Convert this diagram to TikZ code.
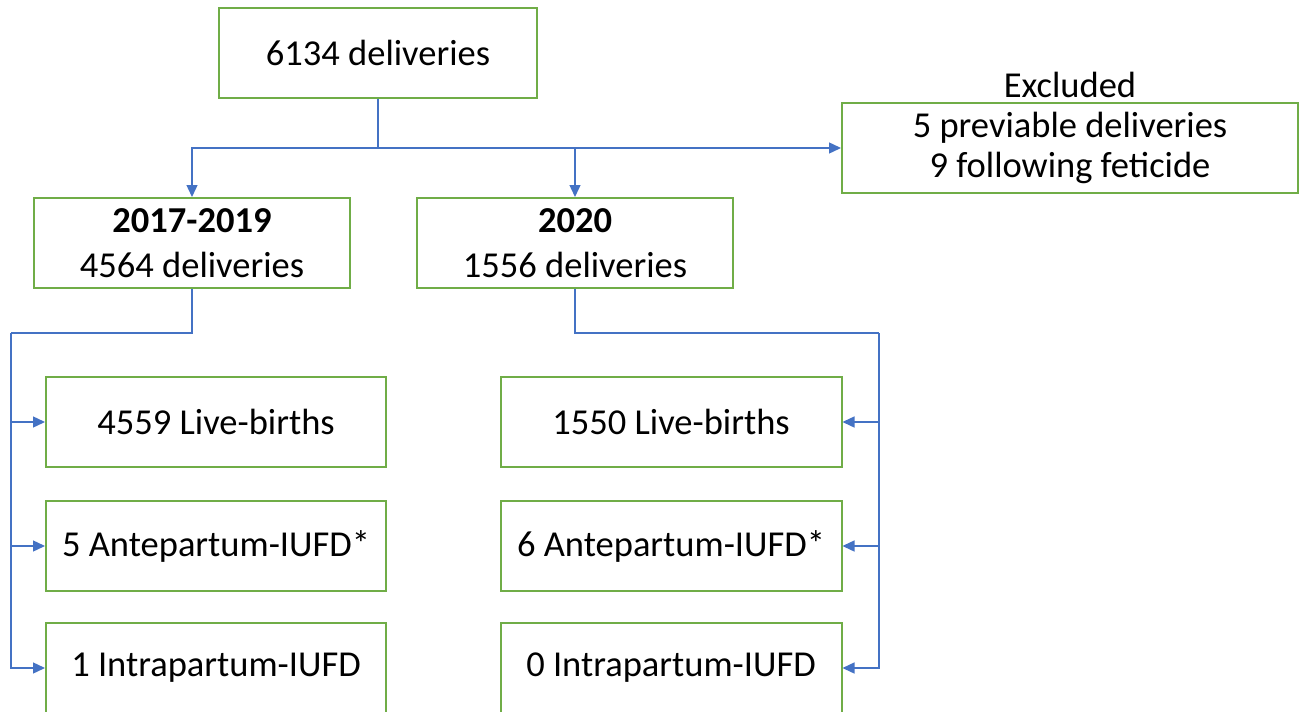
\documentclass[tikz,border=0pt]{standalone}
\usepackage{fontspec}
\setmainfont{Carlito}
\usetikzlibrary{arrows.meta}
\definecolor{boxgreen}{HTML}{70AD47}
\definecolor{linkblue}{HTML}{4472C4}

\begin{document}
\begin{tikzpicture}[x=1pt,y=-1pt,
    box/.style={draw=boxgreen, line width=2pt, minimum height=90pt, inner sep=0pt,
                align=center, font=\fontsize{36.5}{45}\selectfont},
    link/.style={draw=linkblue, line width=1.4pt},
    arr/.style={link, -{Triangle[length=12pt,width=11pt]}}]
    \useasboundingbox (0,0) rectangle (1307,712);
    % top level
    \node[box, minimum width=318pt] (total) at (378,52.5) {6134 deliveries};
    \node[box, minimum width=316pt] (early) at (192,243) {\textbf{2017-2019}\\4564 deliveries};
    \node[box, minimum width=316pt] (late) at (575,243) {\textbf{2020}\\1556 deliveries};
    \node[box, minimum width=456pt, font=\fontsize{36.5}{40}\selectfont] (excl) at (1070,148)
        {5 previable deliveries\\9 following feticide};
    \node[font=\fontsize{36.5}{45}\selectfont, anchor=south, inner sep=4pt] (excltitle) at (excl.north) {Excluded};
    % outcome boxes
    \foreach \i/\yy/\a/\b in {1/422/4559 Live-births/1550 Live-births,
                              2/546/5 Antepartum-IUFD*/6 Antepartum-IUFD*,
                              3/668/1 Intrapartum-IUFD/0 Intrapartum-IUFD} {
        \node[box, minimum width=340pt] (l\i) at (216,\yy) {\a};
        \node[box, minimum width=341pt] (r\i) at (671,\yy) {\b};
    }
    % connectors
    \coordinate (split) at (378,148);
    \draw[link] (total.south) -- (split);
    \draw[arr] (split) -| (early.north);
    \draw[arr] (split) -| (late.north);
    \draw[arr] (split) -- (excl.west);
    \coordinate (lbus) at (11,333);
    \coordinate (rbus) at (879,333);
    \draw[link] (early.south) |- (lbus);
    \draw[link] (late.south) |- (rbus);
    \foreach \i in {1,2,3} {
        \draw[arr] (lbus) |- (l\i.west);
        \draw[arr] (rbus) |- (r\i.east);
    }
\end{tikzpicture}
\end{document}
